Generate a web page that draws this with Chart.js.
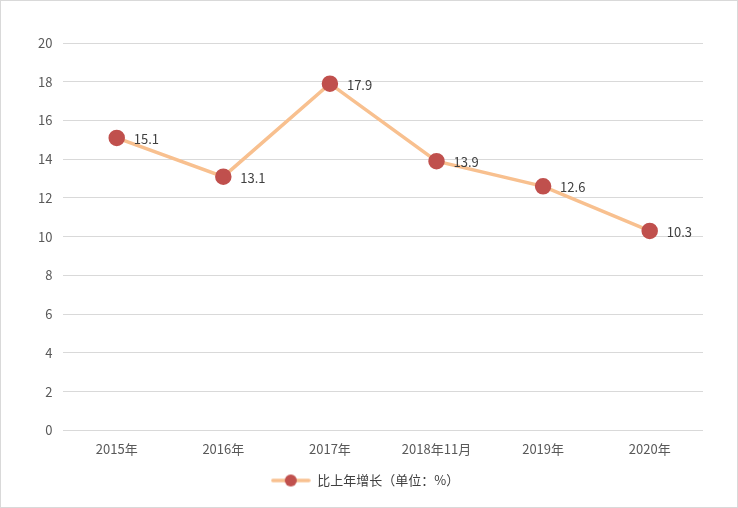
<!DOCTYPE html>
<html>
<head>
<meta charset="utf-8">
<script src="https://cdn.jsdelivr.net/npm/chart.js@4/dist/chart.umd.min.js"></script>
<style>
  html, body { margin: 0; padding: 0; background: #fff; }
  #wrap { width: 738px; height: 508px; box-sizing: border-box; border: 1px solid #d9d9d9; }
</style>
</head>
<body>
<div id="wrap"><canvas id="grafico"></canvas></div>
<script>
// datos del grafico
const categorias = ['2015年', '2016年', '2017年', '2018年11月', '2019年', '2020年'];
const crecimiento = [15.1, 13.1, 17.9, 13.9, 12.6, 10.3];
const nombreSerie = '比上年增长（单位：%）';

const colorLinea = '#f8c08f';
const colorPunto = '#c0504d';
const fuente = '"Noto Sans CJK SC", "Noto Sans", sans-serif';

// icono de la leyenda: linea con circulo
function iconoLeyenda() {
  const c = document.createElement('canvas');
  c.width = 40; c.height = 14;
  const g = c.getContext('2d');
  g.strokeStyle = colorLinea;
  g.lineWidth = 3.5;
  g.lineCap = 'round';
  g.beginPath(); g.moveTo(2, 7); g.lineTo(38, 7); g.stroke();
  g.fillStyle = colorPunto;
  g.beginPath(); g.arc(20, 7, 6, 0, Math.PI * 2); g.fill();
  return c;
}

// etiquetas de valores al lado de cada punto
const etiquetas = {
  id: 'etiquetas',
  afterDatasetsDraw(chart) {
    const ctx = chart.ctx;
    const meta = chart.getDatasetMeta(0);
    ctx.save();
    ctx.font = '13px ' + fuente;
    ctx.fillStyle = '#404040';
    ctx.textAlign = 'left';
    ctx.textBaseline = 'middle';
    meta.data.forEach((p, i) => {
      ctx.fillText(chart.data.datasets[0].data[i].toFixed(1), p.x + 17, p.y + 1);
    });
    ctx.restore();
  }
};

const ctx = document.getElementById('grafico');
new Chart(ctx, {
  type: 'line',
  data: {
    labels: categorias,
    datasets: [{
      label: nombreSerie,
      data: crecimiento,
      borderColor: colorLinea,
      borderWidth: 3.5,
      pointBackgroundColor: colorPunto,
      pointBorderColor: colorPunto,
      pointRadius: 6.5,
      tension: 0
    }]
  },
  options: {
    responsive: true,
    maintainAspectRatio: false,
    animation: false,
    layout: { padding: { top: 42, right: 34, left: 26, bottom: 10 } },
    plugins: {
      tooltip: { enabled: false },
      legend: {
        position: 'bottom',
        labels: {
          usePointStyle: true,
          pointStyleWidth: 40,
          font: { size: 13, family: fuente },
          color: '#404040',
          padding: 14,
          generateLabels(chart) {
            return [{
              text: nombreSerie,
              pointStyle: iconoLeyenda(),
              fontColor: '#404040',
              datasetIndex: 0,
              hidden: false
            }];
          }
        }
      }
    },
    scales: {
      x: {
        offset: true,
        grid: { display: false },
        border: { display: false },
        ticks: { color: '#595959', font: { size: 13, family: fuente }, padding: 3 }
      },
      y: {
        min: 0,
        max: 20,
        ticks: { stepSize: 2, color: '#595959', font: { size: 13, family: fuente }, padding: 11 },
        grid: { color: '#d9d9d9', drawTicks: false },
        border: { display: false }
      }
    }
  },
  plugins: [etiquetas]
});
</script>
</body>
</html>
